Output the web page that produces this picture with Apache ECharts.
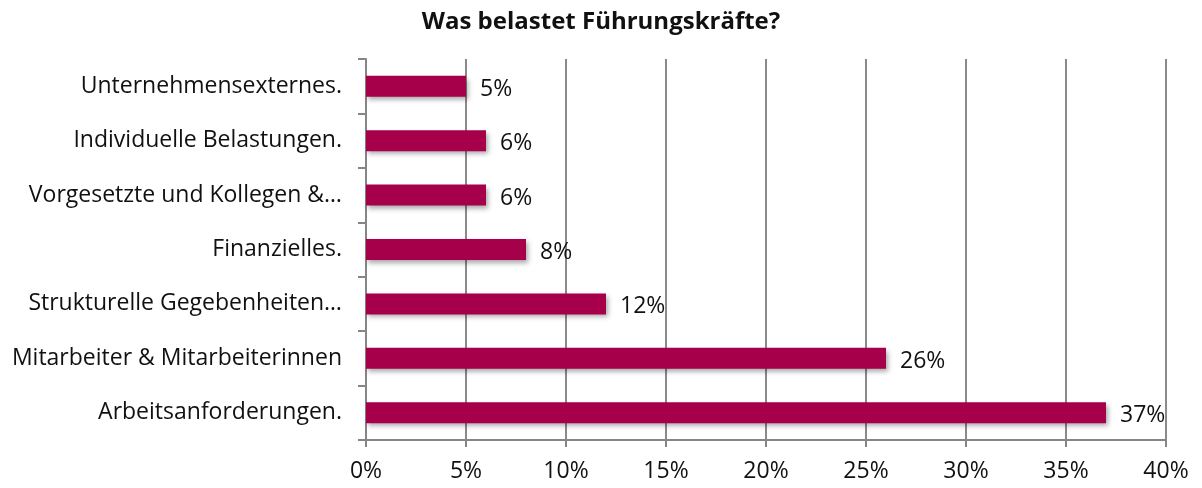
<!DOCTYPE html>
<html>
<head>
<meta charset="utf-8">
<script src="https://cdn.jsdelivr.net/npm/echarts@6/dist/echarts.min.js"></script>
<style>
  html, body { margin: 0; padding: 0; background: #fff; }
  #chart { width: 1202px; height: 488px; }
</style>
</head>
<body>
<div id="chart"></div>
<script>
// categories from bottom to top, as ECharts draws a category y axis
const categories = [
    'Arbeitsanforderungen.',
    'Mitarbeiter & Mitarbeiterinnen',
    'Strukturelle Gegebenheiten…',
    'Finanzielles.',
    'Vorgesetzte und Kollegen &…',
    'Individuelle Belastungen.',
    'Unternehmensexternes.'
];
const values = [37, 26, 12, 8, 6, 6, 5];
const xTicks = [0, 5, 10, 15, 20, 25, 30, 35, 40];

const font = '"Open Sans", "Noto Sans", sans-serif';
let chart = echarts.init(document.getElementById('chart'));

chart.setOption({
    animation: false,
    title: {
        text: 'Was belastet Führungskräfte?',
        left: 'center',
        top: 5,
        textStyle: {fontFamily: font, fontSize: 24, fontWeight: 'bold', color: '#111'}
    },
    grid: {left: 366, right: 36, top: 59, bottom: 48},
    xAxis: {
        type: 'value',
        min: xTicks[0],
        max: xTicks[xTicks.length - 1],
        interval: 5,
        axisLine: {show: true, lineStyle: {color: '#868686', width: 2}},
        axisTick: {show: true, length: 7, lineStyle: {color: '#868686', width: 2}},
        splitLine: {lineStyle: {color: '#8a8a8a', width: 2}},
        axisLabel: {
            margin: 20,
            fontFamily: font, fontSize: 23, color: '#111',
            formatter: v => v + '%'
        }
    },
    yAxis: {
        type: 'category',
        data: categories,
        axisLine: {show: true, lineStyle: {color: '#868686', width: 2}},
        axisTick: {show: true, length: 8, lineStyle: {color: '#868686', width: 2}},
        axisLabel: {
            margin: 24,
            fontFamily: font, fontSize: 23, color: '#111'
        }
    },
    series: [{
        type: 'bar',
        data: values,
        barWidth: 21,
        itemStyle: {
            color: '#A6004B',
            shadowColor: 'rgba(0,0,0,0.35)',
            shadowBlur: 5,
            shadowOffsetX: 2,
            shadowOffsetY: 3
        },
        label: {
            show: true,
            position: 'right',
            distance: 14,
            offset: [0, 3],
            fontFamily: font, fontSize: 23, color: '#111',
            formatter: p => p.value + '%'
        }
    }]
});
</script>
</body>
</html>
